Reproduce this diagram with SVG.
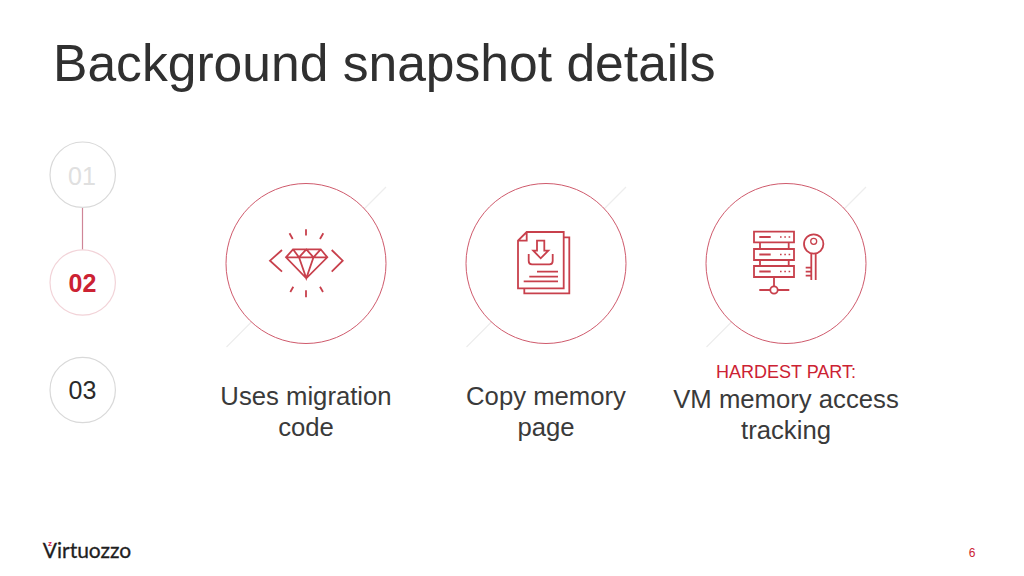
<svg xmlns="http://www.w3.org/2000/svg" width="1024" height="576" viewBox="0 0 1024 576">
<style>
text{font-family:"Liberation Sans",Arial,sans-serif;text-anchor:middle}
.lbl{font-size:25.7px;fill:#3a3a3a}
.step{fill:#fff;stroke:#d9d9d9;stroke-width:1.2}
.ring{fill:#fff;stroke:#cf5a6c;stroke-width:1}
.diag{stroke:#ededed;stroke-width:1.2;fill:none}
.ic{fill:none;stroke:#c8404c;stroke-width:1.8;stroke-linejoin:miter}
.thin{fill:none;stroke:#c8404c;stroke-width:1.3}
</style>
<rect width="1024" height="576" fill="#fff"/>
<text id="title" x="53" y="81" font-size="51.6" fill="#303030" style="text-anchor:start">Background snapshot details</text>
<g id="connectors"><path d="M82.5 207V250" stroke="#cf8597" stroke-width="1.2" fill="none"/></g>
<g id="step-01"><circle class="step" cx="82.7" cy="174.7" r="32.7"/><text x="82" y="185" font-size="25" fill="#e0e0e0">01</text></g>
<g id="step-02"><circle class="step" style="stroke:#f2d3d8" cx="82.7" cy="282.5" r="32.7"/><text x="82.5" y="292" font-size="25" font-weight="700" fill="#cc2233">02</text></g>
<g id="step-03"><circle class="step" cx="82.7" cy="390" r="32.7"/><text x="82.5" y="398.5" font-size="25" fill="#2a2a2a">03</text></g>
<g id="card-migration">
<path class="diag" d="M226.5 347L386 187"/>
<circle class="ring" cx="306" cy="263.5" r="80"/>
<path class="ic" d="M293 249.3H320.7L327.3 257.3L306.3 278.3L286 257.3ZM286 257.3H327.3M293 249.3L299 257.3L306.3 249.3L313.5 257.3L320.7 249.3M299 257.3L306.3 278.3L313.5 257.3"/>
<path class="ic" d="M282 250L270 260.7L282 271.7M331.7 250L342.7 260.7L331.7 271.7M306 229.3V235.5M289.5 233.3L292.7 239M323.3 233.3L320 239M306 290.3V297.3M293.3 286.7L290.3 292M320 286.7L323 292"/>
<text class="lbl" x="306" y="405">Uses migration</text>
<text class="lbl" x="306" y="436">code</text>
</g>
<g id="card-copy">
<path class="diag" d="M466.5 347L626 187"/>
<circle class="ring" cx="546" cy="263.5" r="80"/>
<path class="ic" d="M563.7 237.3H569.3V293.3H524.3V288.3"/>
<path class="ic" d="M526.7 232H563.7V288.3H518V240.7ZM526.7 232V240.7H518"/>
<path class="ic" d="M537 240.7H544.3V250.7H548.3L540.7 258.3L533.3 250.7H537ZM528.7 254V261Q528.7 264.3 532 264.3H549.5Q552.7 264.3 552.7 261V254"/>
<path class="ic" d="M537 271.7H558M529.3 276.7H558M523.7 281.3H558"/>
<text class="lbl" x="546" y="405">Copy memory</text>
<text class="lbl" x="546" y="436">page</text>
</g>
<g id="card-tracking">
<path class="diag" d="M706.5 347L866 187"/>
<circle class="ring" cx="786" cy="263.5" r="80"/>
<path class="ic" d="M754 231.7H794V242.3H754ZM754 249H794V260H754ZM754 266H794V277H754ZM760 242.3V249M788.7 242.3V249M760 260V266M788.7 260V266M759.3 237H770.7M759.3 254.5H770.7M759.3 271.5H770.7M774 277V286M759.3 290H770.3M777.7 290H789.3"/>
<circle class="ic" cx="774" cy="290" r="3.7"/>
<path class="thin" stroke-dasharray="1.6 2.7" d="M780 237H791M780 254.5H791M780 271.5H791"/>
<circle class="ic" cx="813.7" cy="244" r="9.7"/><circle class="thin" cx="813.7" cy="241.3" r="3"/>
<path class="ic" d="M811.3 253.5V280M815.7 253.5V280M805.7 267.7H811.3M805.7 271.7H811.3M805.7 275.7H811.3"/>
<text x="786" y="378" font-size="18" fill="#cc2233">HARDEST PART:</text>
<text class="lbl" x="786" y="408">VM memory access</text>
<text class="lbl" x="786" y="439">tracking</text>
</g>
<g id="logo">
<text x="87" y="558" font-size="21" style="font-family:Lato,sans-serif" fill="#1f1f1f" stroke="#1f1f1f" stroke-width="0.3">Virtuozzo</text>
<text x="50" y="546" font-size="8" font-weight="700" fill="#d0244a">z</text>
</g>
<text id="page" x="972" y="557" font-size="12" fill="#cc2233">6</text>
</svg>
